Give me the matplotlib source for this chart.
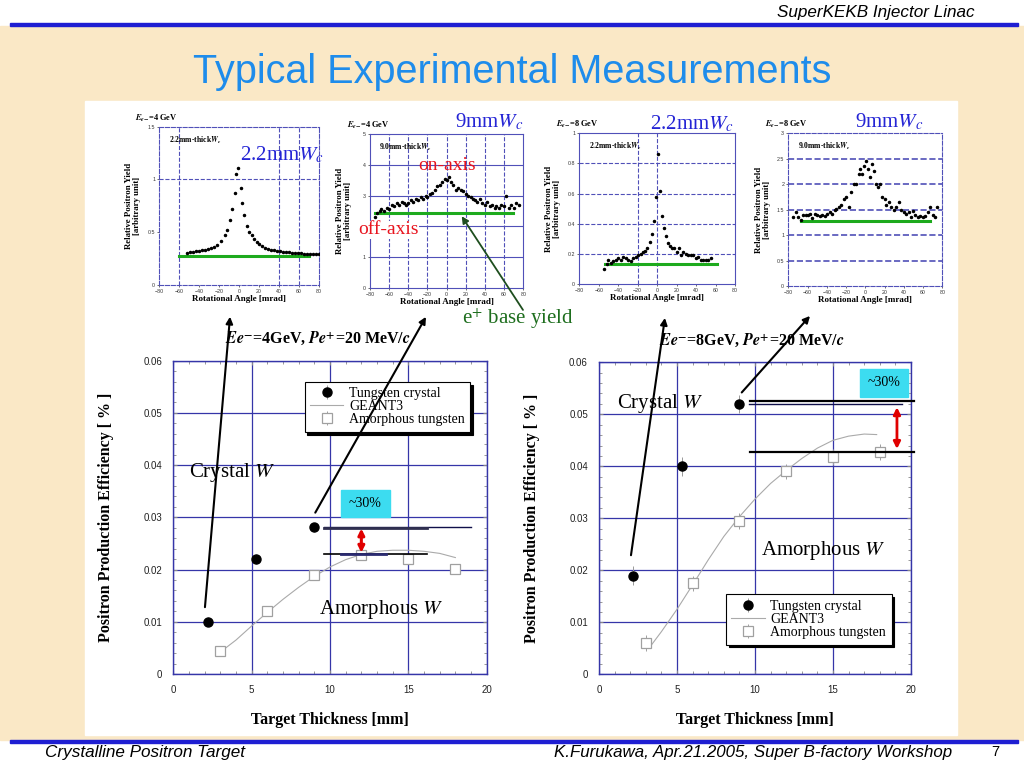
import matplotlib
matplotlib.use("Agg")
import matplotlib.pyplot as plt
from matplotlib.patches import Rectangle, ConnectionPatch
from matplotlib.ticker import MultipleLocator
import numpy as np

plt.rcParams['font.family'] = ['Liberation Serif', 'DejaVu Serif']
plt.rcParams['mathtext.fontset'] = 'stix'

# ---- small scans: positron yield vs rotational angle ----
ang_4g_22 = [-52, -49, -46, -43, -40, -37, -34, -31, -28, -25, -22, -18, -14, -12, -9,
             -7, -4.5, -2.8, -0.8, 1.5, 3.2, 5.2, 7.5, 10, 12.5, 15, 17.5, 20, 23, 26,
             29, 32, 35, 38, 41, 44, 47, 50, 53, 56, 59, 62, 65, 68, 71, 74, 77, 80]
yld_4g_22 = [0.30, 0.31, 0.31, 0.32, 0.32, 0.33, 0.33, 0.34, 0.35, 0.36, 0.38, 0.42, 0.47, 0.52, 0.62,
             0.72, 0.87, 1.05, 1.11, 0.92, 0.78, 0.66, 0.56, 0.50, 0.47, 0.44, 0.41, 0.39, 0.37, 0.35,
             0.34, 0.33, 0.33, 0.32, 0.32, 0.31, 0.31, 0.31, 0.30, 0.30, 0.30, 0.30, 0.29, 0.29, 0.29,
             0.29, 0.29, 0.29]

ang_4g_9 = [-75, -73, -70, -68, -65, -62, -60, -57, -55, -52, -50, -47, -45, -42, -40, -37, -35, -32,
            -30, -27, -25, -22, -20, -17, -15, -12, -10, -7, -5, -2, 0, 2, 5, 7, 10, 12, 15, 17, 20,
            22, 25, 27, 30, 32, 35, 37, 40, 42, 45, 47, 50, 52, 55, 57, 60, 62, 65, 67, 70, 72, 75]
yld_4g_9 = [2.30, 2.45, 2.50, 2.55, 2.50, 2.60, 2.55, 2.70, 2.65, 2.75, 2.70, 2.80, 2.75, 2.70, 2.75,
            2.85, 2.80, 2.90, 2.85, 2.95, 2.90, 3.00, 2.95, 3.05, 3.10, 3.20, 3.30, 3.35, 3.45, 3.55,
            3.50, 3.60, 3.45, 3.35, 3.20, 3.25, 3.20, 3.15, 3.05, 3.00, 2.95, 2.90, 2.85, 2.80, 2.90,
            2.75, 2.70, 2.80, 2.65, 2.70, 2.60, 2.65, 2.60, 2.70, 2.65, 3.00, 2.60, 2.70, 2.60, 2.75, 2.70]

ang_8g_22 = [-55, -52, -50, -47, -45, -42, -40, -37, -35, -32, -30, -27, -25, -22, -20, -17, -15, -12,
             -10, -7, -5, -3, -1, 1, 3, 5, 7, 9, 11, 13, 15, 17, 20, 22, 25, 27, 30, 32, 35, 37, 40,
             42, 45, 47, 50, 52, 55]
yld_8g_22 = [0.10, 0.13, 0.16, 0.14, 0.15, 0.16, 0.17, 0.16, 0.18, 0.17, 0.16, 0.15, 0.17, 0.18, 0.19,
             0.20, 0.21, 0.22, 0.24, 0.28, 0.33, 0.42, 0.58, 0.86, 0.62, 0.45, 0.37, 0.32, 0.27, 0.25,
             0.24, 0.24, 0.21, 0.24, 0.19, 0.21, 0.20, 0.19, 0.19, 0.19, 0.17, 0.18, 0.16, 0.16, 0.16,
             0.16, 0.17]

ang_8g_9 = [-75, -72, -70, -67, -65, -62, -60, -57, -55, -52, -50, -47, -45, -42, -40, -37, -35, -32,
            -30, -27, -25, -22, -20, -17, -15, -12, -10, -7, -5, -3, -1, 1, 3, 5, 7, 9, 11, 13, 15,
            17, 20, 22, 25, 27, 30, 32, 35, 37, 40, 42, 45, 47, 50, 52, 55, 57, 60, 62, 65, 67, 70, 72, 75]
yld_8g_9 = [1.35, 1.45, 1.35, 1.30, 1.40, 1.40, 1.40, 1.42, 1.33, 1.42, 1.40, 1.38, 1.40, 1.37, 1.42,
            1.45, 1.42, 1.50, 1.52, 1.55, 1.60, 1.70, 1.75, 1.55, 1.85, 2.00, 2.00, 2.20, 2.30, 2.20,
            2.35, 2.45, 2.30, 2.15, 2.40, 2.25, 2.00, 1.95, 2.00, 1.75, 1.70, 1.60, 1.65, 1.55, 1.50,
            1.55, 1.65, 1.50, 1.45, 1.42, 1.45, 1.35, 1.48, 1.40, 1.35, 1.38, 1.35, 1.38, 1.45, 1.55,
            1.40, 1.35, 1.55]

# base yield (green line): level, from, to
base_lines = [(0.275, -60, 70), (2.45, -75, 69), (0.13, -54, 61), (1.27, -67, 67)]

# ---- main plots: production efficiency vs thickness ----
cry_thick = [2.2, 5.3, 9.0]
cry_4g = [0.0100, 0.0220, 0.0281]
cry_8g = [0.0190, 0.0400, 0.0520]
amo_thick = [3, 6, 9, 12, 15, 18]
amo_4g = [0.0045, 0.0120, 0.0190, 0.0227, 0.0220, 0.0202]
amo_8g = [0.0060, 0.0175, 0.0295, 0.0390, 0.0418, 0.0428]
g3_thick_4g = [3, 4, 5, 6, 7, 8, 9, 10, 11, 12, 13, 14, 15, 16, 17, 18]
g3_4g = [0.0042, 0.0065, 0.0092, 0.0118, 0.0143, 0.0166, 0.0187, 0.0205, 0.0219, 0.0229,
         0.0235, 0.0237, 0.0237, 0.0235, 0.0231, 0.0223]
g3_thick_8g = [3.2, 4, 5, 6, 7, 8, 9, 10, 11, 12, 13, 14, 15, 16, 17, 17.8]
g3_8g = [0.0050, 0.0082, 0.0125, 0.0172, 0.0220, 0.0265, 0.0303, 0.0337, 0.0367, 0.0392,
         0.0415, 0.0435, 0.0450, 0.0458, 0.0462, 0.0461]

W, H = 1024, 768
fig = plt.figure(figsize=(W / 100, H / 100), dpi=100)


def fx(x):
    return x / W


def fy(y):
    return 1 - y / H


def rect(l, t, r, b):
    return [fx(l), fy(b), (r - l) / W, (b - t) / H]


# slide background
fig.add_artist(Rectangle((0, fy(740)), 1, fy(26) - fy(740), transform=fig.transFigure,
                         color='#FAE8C6', zorder=-10))
fig.add_artist(Rectangle((fx(85), fy(735)), fx(957) - fx(85), fy(101) - fy(735),
                         transform=fig.transFigure, color='white', zorder=-9))
for yy in (24, 741):
    fig.add_artist(Rectangle((fx(10), fy(yy + 2)), fx(1018) - fx(10), 3 / H,
                             transform=fig.transFigure, color='#1E1ED2', zorder=-8))

sans_n = ['Liberation Sans Narrow', 'Liberation Sans', 'DejaVu Sans']
fig.text(fx(975), fy(12), 'SuperKEKB Injector Linac', ha='right', va='center',
         fontsize=12.3, style='italic', family=sans_n)
fig.text(fx(512), fy(72), 'Typical Experimental Measurements', ha='center', va='center',
         fontsize=28.5, color='#1E8CEB', family=['Liberation Sans', 'DejaVu Sans'])
fig.text(fx(45), fy(752), 'Crystalline Positron Target', ha='left', va='center',
         fontsize=12.3, style='italic', family=sans_n)
fig.text(fx(952), fy(752), 'K.Furukawa, Apr.21.2005, Super B-factory Workshop', ha='right',
         va='center', fontsize=12.2, style='italic', family=sans_n)
fig.text(fx(995), fy(752), '7', ha='center', va='center', fontsize=10.5, family=sans_n)

# ---- small scan axes ----
small_rects = [rect(159.3, 126.7, 319, 285), rect(370, 134.3, 523.3, 287.7),
               rect(579.3, 133.3, 735, 284), rect(788.3, 133.3, 942.3, 286)]
small_data = [(ang_4g_22, yld_4g_22), (ang_4g_9, yld_4g_9),
              (ang_8g_22, yld_8g_22), (ang_8g_9, yld_8g_9)]
small_ylim = [1.5, 5, 1, 3]
small_ystep = [0.5, 1, 0.2, 0.5]
small_energy = ['4', '4', '8', '8']
small_thick = ['2.2', '9.0', '2.2', '9.0']
small_big = ['2.2mm', '9mm', '2.2mm', '9mm']
big_pos = [(240, 155), (455, 122), (650, 124), (855, 122)]
vgrid = [[-60, 40, 60], [-60, -40, -20, 0, 20, 40, 60], [-20, 0], []]
hgrid = [[1.0], [1, 2, 3, 4], [0.2, 0.4, 0.6, 0.8], [0.5, 1, 1.5, 2, 2.5]]
hgrid_style = ['--', '-', '--', '--']
gcol = '#5050B8'

small_axes = []
for i in range(4):
    ax = fig.add_axes(small_rects[i])
    small_axes.append(ax)
    xs, ys = small_data[i]
    for v in vgrid[i]:
        ax.axvline(v, color=gcol, lw=0.8, ls='--', zorder=0)
    for h in hgrid[i]:
        ax.axhline(h, color=gcol, lw=1.2 if i == 3 else 0.8, ls=hgrid_style[i], zorder=0)
    lvl, x0, x1 = base_lines[i]
    ax.plot([x0, x1], [lvl, lvl], color='#1DAA1D', lw=2.2, zorder=2)
    ax.plot(xs, ys, 'o', color='black', ms=1.5, zorder=3)
    ax.set_xlim(-80, 80)
    ax.set_ylim(0, small_ylim[i])
    ax.xaxis.set_major_locator(MultipleLocator(20))
    ax.yaxis.set_major_locator(MultipleLocator(small_ystep[i]))
    ax.yaxis.set_major_formatter(matplotlib.ticker.FuncFormatter(lambda v, p: ('%g' % v)))
    ax.tick_params(labelsize=3.8, length=1.5, width=0.5, pad=1.5, colors='#333333')
    for lab in ax.get_xticklabels() + ax.get_yticklabels():
        lab.set_family(['Liberation Sans', 'DejaVu Sans'])
    for s in ax.spines.values():
        s.set_color(gcol)
        s.set_linewidth(0.8)
        if i in (0, 3):
            s.set_linestyle('--')
    ax.set_xlabel('Rotational Angle [mrad]', fontsize=6.5, fontweight='bold')
    ax.xaxis.set_label_coords(0.5, -0.065)
    ax.set_ylabel('Relative Positron Yield\n[arbitrary unit]', fontsize=6.3,
                  fontweight='bold', linespacing=1.0)
    ax.yaxis.set_label_coords(-0.115, 0.5)
    ax.text(0.06, 0.95, small_thick[i] + r'mm-thick$\mathbfit{W}_{\mathbfit{c}}$',
            transform=ax.transAxes, fontsize=5.5, fontweight='bold', va='top')
    ax.text(-0.15, 1.02 if i else 1.015, r'$\mathbfit{E}_{\mathbfit{e}\mathbf{-}}$=' + small_energy[i] + ' GeV',
            transform=ax.transAxes, fontsize=6, fontweight='bold', va='bottom')
    bx, by = big_pos[i]
    fig.text(fx(bx), fy(by), small_big[i] + r'$W_c$', fontsize=15, color='#2525D5',
             va='center', ha='left')

fig.text(fx(418), fy(166), 'on-axis', fontsize=14, color='#E8141E', va='center')
# the label sits on a white patch that hides the scan's "2" tick, as in the slide
fig.text(fx(358), fy(230), 'off-axis', fontsize=14, color='#E8141E', va='center',
         bbox=dict(facecolor='white', edgecolor='none', pad=0.5))
fig.text(fx(462), fy(319), r'e$^{+}$ base yield', fontsize=15, color='#1E6E1E', va='center')

# ---- main efficiency axes ----
main_rects = [rect(173.3, 360.7, 486.7, 674), rect(599, 362.3, 911, 674.3)]
mcol = '#3535A8'
titles = [r'$\mathbfit{Ee}^{\mathbf{-}}$=4GeV, $\mathbfit{Pe}^{\mathbf{+}}$=20 MeV/$\mathbfit{c}$',
          r'$\mathbfit{Ee}^{\mathbf{-}}$=8GeV, $\mathbfit{Pe}^{\mathbf{+}}$=20 MeV/$\mathbfit{c}$']
title_pos = [(318, 338), (752, 340)]
cry_sets = [cry_4g, cry_8g]
amo_sets = [amo_4g, amo_8g]
g3_sets = [(g3_thick_4g, g3_4g), (g3_thick_8g, g3_8g)]
cry_err = [0.0009, 0.0018]
amo_err = [0.0008, 0.0015]
legend_anchor = [((0.97, 0.955), 'upper right'), ((0.96, 0.073), 'lower right')]

main_axes = []
for i in range(2):
    ax = fig.add_axes(main_rects[i])
    main_axes.append(ax)
    ax.set_xlim(0, 20)
    ax.set_ylim(0, 0.06)
    ax.xaxis.set_major_locator(MultipleLocator(5))
    ax.yaxis.set_major_locator(MultipleLocator(0.01))
    ax.xaxis.set_minor_locator(MultipleLocator(1))
    ax.yaxis.set_minor_locator(MultipleLocator(0.002))
    ax.yaxis.set_major_formatter(matplotlib.ticker.FuncFormatter(lambda v, p: ('%g' % round(v, 3))))
    ax.grid(True, which='major', color=mcol, lw=0.9)
    ax.set_axisbelow(True)
    ax.tick_params(which='both', direction='in', top=True, right=True, color='#888888')
    ax.tick_params(which='major', length=3, labelsize=7, pad=8, labelcolor='#222222')
    ax.tick_params(which='minor', length=2)
    for lab in ax.get_xticklabels() + ax.get_yticklabels():
        lab.set_family(['Liberation Sans', 'DejaVu Sans'])
    for s in ax.spines.values():
        s.set_color(mcol)
        s.set_linewidth(1.0)

    gx, gy = g3_sets[i]
    ax.plot(gx, gy, '-', color='#AAAAAA', lw=0.8, label='GEANT3', zorder=3)
    ax.errorbar(amo_thick, amo_sets[i], yerr=amo_err[i], fmt='s', ms=7, mfc='white',
                mec='#A0A0A0', mew=0.9, ecolor='#A0A0A0', elinewidth=0.7, capsize=0,
                zorder=4, label='Amorphous tungsten')
    ax.errorbar(cry_thick, cry_sets[i], yerr=cry_err[i], fmt='o', ms=6.5, color='black',
                ecolor='#999999', elinewidth=0.7, capsize=0, zorder=5, label='Tungsten crystal')

    h, l = ax.get_legend_handles_labels()
    order = [2, 0, 1]
    anc, loc = legend_anchor[i]
    leg = ax.legend([h[k] for k in order], [l[k] for k in order], loc=loc, bbox_to_anchor=anc,
                    fontsize=10, frameon=True, fancybox=False, edgecolor='black', framealpha=1,
                    shadow={'color': 'black', 'alpha': 1}, labelspacing=0.0, handlelength=2.4,
                    handletextpad=0.4, borderpad=0.4)
    leg.get_frame().set_linewidth(0.8)
    leg.set_zorder(6)

    ax.set_xlabel('Target Thickness [mm]', fontsize=11.5, fontweight='bold')
    ax.xaxis.set_label_coords(0.5, -0.12)
    ax.set_ylabel('Positron Production Efficiency [ % ]', fontsize=11.5, fontweight='bold')
    ax.yaxis.set_label_coords(-0.19, 0.5)
    tx, ty = title_pos[i]
    fig.text(fx(tx), fy(ty), titles[i], ha='center', va='center', fontsize=11.5, fontweight='bold')

# annotations, left (4 GeV)
ax = main_axes[0]
ax.text(1.0, 0.0385, r'Crystal $W$', fontsize=15, va='center', zorder=7)
ax.text(9.3, 0.0124, r'Amorphous $W$', fontsize=15, va='center', zorder=7)
ax.plot([9.6, 19.0], [0.0281, 0.0281], color='#10104A', lw=1.0, clip_on=False, zorder=6)
ax.plot([9.6, 16.2], [0.0279, 0.0279], color='#303050', lw=2.0, zorder=6)
ax.plot([9.6, 16.2], [0.0229, 0.0229], color='black', lw=1.2, zorder=6)
ax.plot([10.7, 13.6], [0.0230, 0.0230], color='#2A2A70', lw=2.0, zorder=6)
ax.annotate('', xy=(12.0, 0.0284), xytext=(12.0, 0.0227),
            arrowprops=dict(arrowstyle='<|-|>', color='#E00000', lw=2.2, mutation_scale=9), zorder=7)
ax.add_patch(Rectangle((10.7, 0.0300), 3.1, 0.0053, color='#3CDCF0', zorder=6))
ax.text(12.25, 0.03265, '~30%', ha='center', va='center', fontsize=10, zorder=7)

# annotations, right (8 GeV)
ax = main_axes[1]
ax.text(1.15, 0.0521, r'Crystal $W$', fontsize=15, va='center', zorder=7)
ax.text(10.4, 0.0239, r'Amorphous $W$', fontsize=15, va='center', zorder=7)
ax.plot([9.7, 20.2], [0.0526, 0.0526], color='black', lw=1.6, clip_on=False, zorder=6)
ax.plot([9.6, 19.4], [0.0520, 0.0520], color='#10104A', lw=1.0, zorder=6)
ax.plot([9.7, 20.2], [0.0428, 0.0428], color='black', lw=1.6, clip_on=False, zorder=6)
ax.annotate('', xy=(19.1, 0.0519), xytext=(19.1, 0.0428),
            arrowprops=dict(arrowstyle='<|-|>', color='#E00000', lw=2.0, mutation_scale=10), zorder=7)
ax.add_patch(Rectangle((16.7, 0.0534), 3.1, 0.0054, color='#3CDCF0', zorder=6))
ax.text(18.25, 0.0561, '~30%', ha='center', va='center', fontsize=10, zorder=7)

# arrows linking points to the scans
links = [(main_axes[0], (2.02, 0.0128), small_axes[0], (0.443, -0.20)),
         (main_axes[0], (9.06, 0.0309), small_axes[1], (0.365, -0.19)),
         (main_axes[1], (2.05, 0.0229), small_axes[2], (0.55, -0.225)),
         (main_axes[1], (9.15, 0.0542), small_axes[3], (0.141, -0.196))]
for axa, pa, axb, pb in links:
    cp = ConnectionPatch(xyA=pa, coordsA=axa.transData, xyB=pb, coordsB=axb.transAxes,
                         arrowstyle='-|>', color='black', lw=1.5, mutation_scale=10, zorder=8)
    fig.add_artist(cp)

cp = ConnectionPatch(xyA=(0.998, -0.145), coordsA=small_axes[1].transAxes, xyB=(15.7, 2.33),
                     coordsB=small_axes[1].transData, arrowstyle='-|>', color='#1E4E1E', lw=1.3,
                     mutation_scale=10, zorder=8)
fig.add_artist(cp)

fig.savefig('out.png', dpi=100)
